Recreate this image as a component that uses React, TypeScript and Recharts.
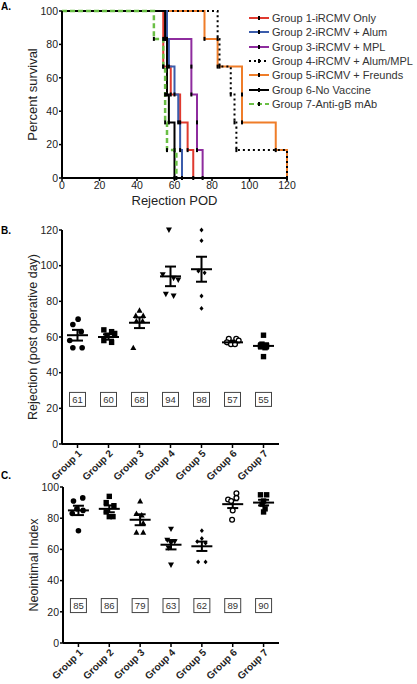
import { LineChart, Line, ComposedChart, Scatter, ErrorBar, XAxis, YAxis } from 'recharts'

const FONT = '"Liberation Sans", Arial, sans-serif'

// ---- Panel A: survival (Kaplan-Meier style step curves)
const survLevels = [100, 83.3, 66.7, 50, 33.3, 16.7, 0]
const podG1 = [0, 54, 54, 58, 63, 67, 70]
const podG2 = [0, 56, 57, 60, 62, 63, 64]
const podG3 = [0, 55, 69, 69, 72, 72, 75]
const podG4 = [0, 83, 84, 90, 92, 93, 120]
const podG5 = [0, 76, 83, 96, 96, 114, 120]
const podG6 = [0, 55, 56, 56, 57, 60, 60]
const podG7 = [0, 49, 54, 55, 55, 56, 61]
const podTicks = [0, 20, 40, 60, 80, 100, 120]
const survTicks = [0, 20, 40, 60, 80, 100]

const survSeries = [
  { name: 'Group 5-iRCMV + Freunds', pod: podG5, color: '#ef7d29', dash: undefined, width: 2 },
  { name: 'Group 4-iRCMV + Alum/MPL', pod: podG4, color: '#000000', dash: '2 3', width: 2 },
  { name: 'Group 3-iRCMV + MPL', pod: podG3, color: '#8e2c9e', dash: undefined, width: 2 },
  { name: 'Group 1-iRCMV Only', pod: podG1, color: '#e03a2f', dash: undefined, width: 2 },
  { name: 'Group 2-iRCMV + Alum', pod: podG2, color: '#3b5cab', dash: undefined, width: 2 },
  { name: 'Group 6-No Vaccine', pod: podG6, color: '#000000', dash: undefined, width: 2 },
  { name: 'Group 7-Anti-gB mAb', pod: podG7, color: '#6abf45', dash: '5 3', width: 2.5 },
]
const legendOrder = [3, 4, 2, 1, 0, 5, 6]

// ---- Panel B: rejection day
const groups = [1, 2, 3, 4, 5, 6, 7]
const rejG1 = [70, 67, 63, 58, 54, 54]
const rejG2 = [64, 63, 62, 61, 58, 57]
const rejG3 = [75, 72, 72, 69, 69, 54]
const rejG4 = [120, 95, 93, 92, 84, 83]
const rejG5 = [120, 114, 97, 96, 83, 76]
const rejG6 = [59, 59, 58, 57, 56, 56]
const rejG7 = [61, 56, 55, 55, 54, 49]
const rejJitter = [
  [0.02, -0.15, 0.12, -0.25, -0.15, 0.15],
  [-0.15, 0.1, 0.2, -0.05, -0.15, 0.1],
  [0.0, -0.12, 0.12, -0.1, 0.1, -0.2],
  [-0.05, -0.25, 0.1, 0.25, -0.15, 0.1],
  [0.0, 0.0, -0.1, 0.1, 0.0, 0.0],
  [-0.12, 0.12, 0.2, -0.18, -0.05, 0.08],
  [0.0, -0.05, 0.1, -0.1, 0.05, 0.0],
]
const rejMean = [61, 60, 68, 94, 98, 57, 55]
const rejSem = [3, 1.5, 3, 5.5, 7, 1, 1.5]
const rejTicks = [0, 20, 40, 60, 80, 100, 120]

// ---- Panel C: neointimal index
const niG1 = [93, 91, 86, 85, 83, 72]
const niG2 = [94, 90, 88, 84, 81, 81]
const niG3 = [91, 83, 82, 77, 71, 71]
const niG4 = [73, 66, 65, 64, 61, 50]
const niG5 = [72, 67, 65, 64, 52, 52]
const niG6 = [96, 93, 92, 91, 85, 79]
const niG7 = [95, 95, 91, 89, 86, 84]
const niJitter = [
  [0.14, -0.16, -0.05, 0.15, -0.2, 0.0],
  [0.0, -0.1, 0.15, -0.1, 0.0, 0.12],
  [0.0, -0.12, 0.05, 0.1, -0.12, 0.1],
  [0.0, -0.12, 0.12, 0.0, -0.08, 0.0],
  [0.0, 0.0, -0.15, 0.12, -0.12, 0.12],
  [0.12, 0.12, -0.15, -0.05, 0.0, -0.02],
  [-0.1, 0.1, 0.0, -0.05, 0.05, 0.0],
]
const niMean = [85, 86, 79, 63, 62, 89, 90]
const niSem = [3, 2.2, 3.5, 3, 3, 2.5, 1.8]
const niTicks = [0, 20, 40, 60, 80, 100]

const markers = ['circle', 'square', 'triangle', 'triangleDown', 'diamond', 'openCircle', 'square']

const axisLine = { stroke: '#000', strokeWidth: 2 }
const tickLine = { stroke: '#000', strokeWidth: 1.5 }
const tickStyle = { fill: '#222', fontSize: 10.5, fontFamily: FONT }

function StepDot(p: any) {
  if (p.index === 0 || p.cx == null) return <g key={`d${p.index}`} />
  return <rect key={`d${p.index}`} x={p.cx - 1} y={p.cy - 2} width={2} height={4} fill="#000" />
}

function SurvLegend() {
  return (
    <div style={{ position: 'absolute', left: 249, top: 11, fontFamily: FONT, fontSize: 11, color: '#333' }}>
      {legendOrder.map((i) => {
        const s = survSeries[i]
        return (
          <div key={s.name} style={{ display: 'flex', alignItems: 'center', height: 14.3, whiteSpace: 'nowrap' }}>
            <svg width={21} height={8} style={{ marginRight: 2 }}>
              <line x1={0} y1={4} x2={20} y2={4} stroke={s.color} strokeWidth={2} strokeDasharray={s.dash} />
              <rect x={9} y={2} width={2} height={4} fill="#000" />
            </svg>
            <span>{s.name}</span>
          </div>
        )
      })}
    </div>
  )
}

function SurvivalChart() {
  return (
    <div style={{ position: 'absolute', left: 0, top: 0 }}>
      <LineChart width={417} height={212} margin={{ top: 11, right: 130, bottom: 4, left: 0 }}>
        <XAxis
          type="number"
          dataKey="x"
          domain={[0, 120]}
          ticks={podTicks}
          height={30}
          axisLine={axisLine}
          tickLine={tickLine}
          tickSize={3}
          tickMargin={1}
          tick={tickStyle}
          label={{ value: 'Rejection POD', position: 'insideBottom', offset: 3, fontSize: 13, fill: '#222', fontFamily: FONT }}
        />
        <YAxis
          type="number"
          domain={[0, 100]}
          ticks={survTicks}
          width={62}
          axisLine={axisLine}
          tickLine={tickLine}
          tickSize={3}
          tickMargin={1}
          tick={tickStyle}
          label={{ value: 'Percent survival', angle: -90, position: 'center', dx: 1, fontSize: 13, fill: '#222', fontFamily: FONT }}
        />
        {survSeries.map((s) => (
          <Line
            key={s.name}
            name={s.name}
            data={s.pod.map((t, i) => ({ x: t, y: survLevels[i] }))}
            dataKey="y"
            type="stepAfter"
            stroke={s.color}
            strokeWidth={s.width}
            strokeDasharray={s.dash}
            dot={StepDot}
            activeDot={false}
            isAnimationActive={false}
          />
        ))}
      </LineChart>
      <SurvLegend />
    </div>
  )
}

function Marker({ cx, cy, kind }: { cx: number; cy: number; kind: string }) {
  if (cx == null || cy == null) return null
  switch (kind) {
    case 'circle':
      return <circle cx={cx} cy={cy} r={2.8} fill="#000" />
    case 'openCircle':
      return <circle cx={cx} cy={cy} r={2.4} fill="#fff" stroke="#000" strokeWidth={1.3} />
    case 'square':
      return <rect x={cx - 2.7} y={cy - 2.7} width={5.4} height={5.4} fill="#000" />
    case 'triangle':
      return <path d={`M${cx},${cy - 3} L${cx + 3},${cy + 2.4} L${cx - 3},${cy + 2.4} Z`} fill="#000" />
    case 'triangleDown':
      return <path d={`M${cx},${cy + 3} L${cx + 3},${cy - 2.4} L${cx - 3},${cy - 2.4} Z`} fill="#000" />
    default:
      return <path d={`M${cx},${cy - 2.4} L${cx + 2},${cy} L${cx},${cy + 2.4} L${cx - 2},${cy} Z`} fill="#000" />
  }
}

function MeanLine(p: any) {
  if (p.cx == null) return null
  return <line x1={p.cx - 10.5} x2={p.cx + 10.5} y1={p.cy} y2={p.cy} stroke="#000" strokeWidth={2} />
}

function ValueBox(p: any) {
  if (p.cx == null) return null
  return (
    <g>
      <rect x={p.cx - 8} y={p.cy - 7} width={16} height={14} fill="#fff" stroke="#444" strokeWidth={1} />
      <text x={p.cx} y={p.cy + 3.3} textAnchor="middle" fontSize={9.5} fill="#333" fontFamily={FONT}>
        {p.payload.label}
      </text>
    </g>
  )
}

function GroupTick(p: any) {
  const ax = p.x + 5
  const ay = p.y + 5
  return (
    <text x={ax} y={ay} transform={`rotate(-45 ${ax} ${ay})`} textAnchor="end" fontSize={10} fontWeight={700} fill="#222" fontFamily={FONT}>
      {`Group ${p.payload.value}`}
    </text>
  )
}

interface DotPlotProps {
  top: number
  height: number
  marginTop: number
  xAxisHeight: number
  yWidth: number
  yMax: number
  yTicks: number[]
  yLabel: string
  values: number[][]
  jitter: number[][]
  means: number[]
  sems: number[]
  boxY: number
}

function DotPlot({ top, height, marginTop, xAxisHeight, yWidth, yMax, yTicks, yLabel, values, jitter, means, sems, boxY }: DotPlotProps) {
  const meanData = groups.map((g, i) => ({ x: g, y: means[i], sem: sems[i] }))
  const boxData = groups.map((g, i) => ({ x: g, y: boxY, label: means[i] }))
  return (
    <div style={{ position: 'absolute', left: 0, top }}>
      <ComposedChart width={417} height={height} margin={{ top: marginTop, right: 138, bottom: 0, left: 0 }}>
        <XAxis
          type="number"
          dataKey="x"
          domain={[0.5, 7.5]}
          ticks={groups}
          height={xAxisHeight}
          axisLine={axisLine}
          tickLine={tickLine}
          tickSize={4}
          tickMargin={1}
          tick={<GroupTick />}
          interval={0}
        />
        <YAxis
          type="number"
          dataKey="y"
          domain={[0, yMax]}
          ticks={yTicks}
          width={yWidth}
          axisLine={axisLine}
          tickLine={tickLine}
          tickSize={3}
          tickMargin={1}
          tick={tickStyle}
          label={{ value: yLabel, angle: -90, position: 'center', dx: 2, fontSize: 12.5, fill: '#222', fontFamily: FONT }}
        />
        <Scatter data={boxData} dataKey="y" shape={ValueBox} isAnimationActive={false} />
        {values.map((vals, gi) => (
          <Scatter
            key={gi}
            data={vals.map((v, i) => ({ x: groups[gi] + jitter[gi][i], y: v }))}
            dataKey="y"
            shape={(p: any) => <Marker cx={p.cx} cy={p.cy} kind={markers[gi]} />}
            isAnimationActive={false}
          />
        ))}
        <Scatter data={meanData} dataKey="y" shape={MeanLine} isAnimationActive={false}>
          <ErrorBar dataKey="sem" direction="y" width={5.5} stroke="#000" strokeWidth={2} />
        </Scatter>
      </ComposedChart>
    </div>
  )
}

export default function App() {
  return (
    <div style={{ position: 'fixed', left: 0, top: 0, width: 417, height: 684, background: '#fff', fontFamily: FONT, overflow: 'hidden' }}>
      <SurvivalChart />
      <DotPlot
        top={215}
        height={275}
        marginTop={15}
        xAxisHeight={46}
        yWidth={62}
        yMax={120}
        yTicks={rejTicks}
        yLabel="Rejection (post operative day)"
        values={[rejG1, rejG2, rejG3, rejG4, rejG5, rejG6, rejG7]}
        jitter={rejJitter}
        means={rejMean}
        sems={rejSem}
        boxY={25}
      />
      <DotPlot
        top={470}
        height={214}
        marginTop={17}
        xAxisHeight={41}
        yWidth={63}
        yMax={100}
        yTicks={niTicks}
        yLabel="Neointimal Index"
        values={[niG1, niG2, niG3, niG4, niG5, niG6, niG7]}
        jitter={niJitter}
        means={niMean}
        sems={niSem}
        boxY={24}
      />
      <div style={{ position: 'absolute', left: 1, top: 1, fontSize: 10, fontWeight: 700 }}>A.</div>
      <div style={{ position: 'absolute', left: 1, top: 225, fontSize: 10, fontWeight: 700 }}>B.</div>
      <div style={{ position: 'absolute', left: 1, top: 470, fontSize: 10, fontWeight: 700 }}>C.</div>
    </div>
  )
}
